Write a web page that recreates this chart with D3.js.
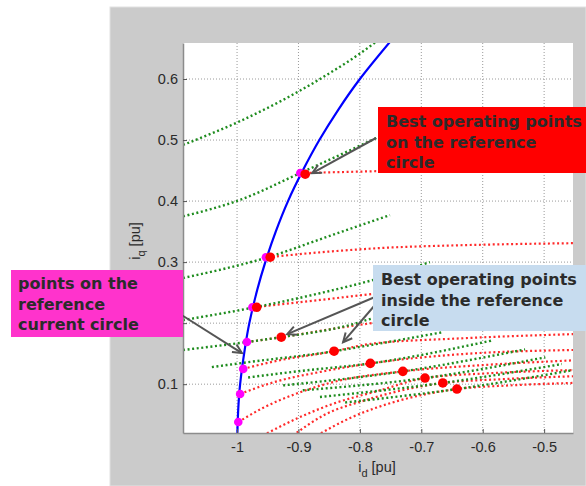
<!DOCTYPE html>
<html>
<head>
<meta charset="utf-8">
<script src="https://cdn.jsdelivr.net/npm/d3@7/dist/d3.min.js"></script>
<style>
  body { margin: 0; background: #fff; }
  .tick text { font-family: "Liberation Sans", Arial, sans-serif; font-size: 14.5px; fill: #2a2a2a; }
  .note { font-family: "DejaVu Sans", Verdana, sans-serif; font-weight: bold; font-size: 16px; fill: #2b2b2b; }
</style>
</head>
<body>
<div id="chart"></div>
<script>
// ticks
const xTicks = [-1, -0.9, -0.8, -0.7, -0.6, -0.5];
const xTickLabels = ["-1", "-0.9", "-0.8", "-0.7", "-0.6", "-0.5"];
const yTicks = [0.1, 0.2, 0.3, 0.4, 0.5, 0.6];
const yTickLabels = ["0.1", "0.2", "0.3", "0.4", "0.5", "0.6"];

// reference current circle (blue) [id, iq]
const circlePts = [[-1.0, 0.0], [-0.998, 0.06], [-0.995, 0.1], [-0.987, 0.16], [-0.98, 0.2],
  [-0.967, 0.255], [-0.954, 0.3], [-0.937, 0.35], [-0.917, 0.4], [-0.893, 0.45],
  [-0.866, 0.5], [-0.835, 0.55], [-0.8, 0.6], [-0.75, 0.662]];

// green dotted curves
const green1 = [[-1.088, 0.492], [-0.995, 0.531], [-0.865, 0.600], [-0.779, 0.657], [-0.76, 0.672]];
const green2 = [[-1.088, 0.375], [-0.995, 0.402], [-0.897, 0.446], [-0.770, 0.505], [-0.686, 0.546]];
const green3 = [[-1.088, 0.274], [-0.950, 0.308], [-0.849, 0.343], [-0.751, 0.377]];
const green4 = [[-1.088, 0.205], [-0.971, 0.226], [-0.865, 0.249], [-0.767, 0.274], [-0.686, 0.300]];
const green5 = [[-1.088, 0.156], [-0.984, 0.169], [-0.928, 0.177], [-0.816, 0.197], [-0.779, 0.208], [-0.70, 0.225]];
const green6 = [[-1.041, 0.128], [-0.990, 0.135], [-0.842, 0.154], [-0.783, 0.164], [-0.666, 0.185]];
const green7 = [[-0.982, 0.111], [-0.902, 0.121], [-0.783, 0.134], [-0.583, 0.172]];
const green8 = [[-0.925, 0.098], [-0.730, 0.121], [-0.531, 0.157]];
const green9 = [[-0.893, 0.090], [-0.694, 0.110], [-0.498, 0.144]];
const green10 = [[-0.865, 0.079], [-0.665, 0.102], [-0.471, 0.133]];
const green11 = [[-0.824, 0.070], [-0.642, 0.092], [-0.453, 0.123]];
const greenCurves = [green1, green2, green3, green4, green5, green6, green7, green8, green9, green10, green11];

// red dotted curves
const red1 = [[-0.889, 0.446], [-0.770, 0.449], [-0.60, 0.452], [-0.453, 0.455]];
const red2 = [[-0.950, 0.308], [-0.865, 0.316], [-0.767, 0.323], [-0.621, 0.328], [-0.453, 0.331]];
const red3 = [[-0.971, 0.226], [-0.865, 0.238], [-0.767, 0.249], [-0.60, 0.262], [-0.453, 0.267]];
const red4 = [[-0.984, 0.169], [-0.928, 0.177], [-0.816, 0.195], [-0.70, 0.210], [-0.453, 0.225]];
const red5 = [[-0.990, 0.125], [-0.941, 0.137], [-0.842, 0.154], [-0.783, 0.166], [-0.637, 0.175], [-0.453, 0.182]];
const red6 = [[-0.995, 0.084], [-0.941, 0.103], [-0.865, 0.120], [-0.783, 0.134], [-0.637, 0.149], [-0.453, 0.156]];
const red7 = [[-0.998, 0.038], [-0.958, 0.061], [-0.902, 0.085], [-0.849, 0.102], [-0.730, 0.121], [-0.604, 0.131], [-0.453, 0.139]];
const red8 = [[-0.958, 0.016], [-0.902, 0.044], [-0.849, 0.066], [-0.767, 0.090], [-0.694, 0.110], [-0.588, 0.118], [-0.453, 0.123]];
const red9 = [[-0.909, 0.016], [-0.859, 0.049], [-0.79, 0.074], [-0.665, 0.102], [-0.572, 0.108], [-0.453, 0.113]];
const red10 = [[-0.870, 0.016], [-0.815, 0.045], [-0.74, 0.072], [-0.642, 0.092], [-0.555, 0.098], [-0.453, 0.102]];
const redCurves = [red1, red2, red3, red4, red5, red6, red7, red8, red9, red10];

// points on the reference current circle (magenta)
const circlePoints = [[-0.897, 0.446], [-0.953, 0.308], [-0.975, 0.226], [-0.984, 0.169],
  [-0.990, 0.125], [-0.995, 0.084], [-0.998, 0.038]];
// best operating points (red)
const bestOnCircle = [[-0.889, 0.444], [-0.946, 0.308], [-0.968, 0.226]];
const bestInside = [[-0.928, 0.177], [-0.842, 0.154], [-0.783, 0.134], [-0.730, 0.121],
  [-0.694, 0.110], [-0.665, 0.102], [-0.642, 0.092]];

// layout
const W = 586, H = 486;
const plot = { left: 183, top: 43, right: 573, bottom: 433 };

const svg = d3.select("#chart").append("svg")
  .attr("width", W)
  .attr("height", H);

// grey figure background
svg.append("rect")
  .attr("x", 110).attr("y", 7)
  .attr("width", W - 110).attr("height", H - 7)
  .style("fill", "#cbcbcb")
  .style("stroke", "#e2e2e2");

svg.append("rect")
  .attr("x", plot.left).attr("y", plot.top)
  .attr("width", plot.right - plot.left).attr("height", plot.bottom - plot.top)
  .style("fill", "#fff");

const x = d3.scaleLinear().domain([-1.088, -0.453]).range([plot.left, plot.right]);
const y = d3.scaleLinear().domain([0.02, 0.659]).range([plot.bottom, plot.top]);

// grid
const grid = svg.append("g").attr("class", "grid");
grid.selectAll(".vgrid")
  .data(xTicks)
  .enter()
  .append("line")
  .attr("x1", d => x(d)).attr("x2", d => x(d))
  .attr("y1", plot.top).attr("y2", plot.bottom)
  .style("stroke", "#9a9a9a")
  .style("stroke-width", 1)
  .style("stroke-dasharray", "1,2");
grid.selectAll(".hgrid")
  .data(yTicks)
  .enter()
  .append("line")
  .attr("x1", plot.left).attr("x2", plot.right)
  .attr("y1", d => y(d)).attr("y2", d => y(d))
  .style("stroke", "#9a9a9a")
  .style("stroke-width", 1)
  .style("stroke-dasharray", "1,2");

// clip for curves
svg.append("clipPath").attr("id", "plotClip")
  .append("rect")
  .attr("x", plot.left).attr("y", plot.top)
  .attr("width", plot.right - plot.left).attr("height", plot.bottom - plot.top);

const lines = svg.append("g").attr("clip-path", "url(#plotClip)");

const line = d3.line()
  .x(d => x(d[0]))
  .y(d => y(d[1]))
  .curve(d3.curveMonotoneX);

lines.selectAll(".redCurve")
  .data(redCurves)
  .enter()
  .append("path")
  .attr("class", "redCurve")
  .attr("d", line)
  .style("fill", "none")
  .style("stroke", "#ff2a2a")
  .style("stroke-width", 2.2)
  .style("stroke-dasharray", "2,2.6");

lines.selectAll(".greenCurve")
  .data(greenCurves)
  .enter()
  .append("path")
  .attr("class", "greenCurve")
  .attr("d", line)
  .style("fill", "none")
  .style("stroke", "#1e8c1e")
  .style("stroke-width", 2.4)
  .style("stroke-dasharray", "2,2.6");

// reference current circle
lines.append("path")
  .datum(circlePts)
  .attr("d", d3.line().x(d => x(d[0])).y(d => y(d[1])).curve(d3.curveCatmullRom))
  .style("fill", "none")
  .style("stroke", "#0000ff")
  .style("stroke-width", 2.2);

lines.selectAll(".circlePoint")
  .data(circlePoints)
  .enter()
  .append("circle")
  .attr("cx", d => x(d[0])).attr("cy", d => y(d[1]))
  .attr("r", 4.3)
  .style("fill", "#ff00ff");

lines.selectAll(".bestPoint")
  .data(bestOnCircle.concat(bestInside))
  .enter()
  .append("circle")
  .attr("cx", d => x(d[0])).attr("cy", d => y(d[1]))
  .attr("r", 4.8)
  .style("fill", "#ff0000");

// axes
svg.append("g")
  .attr("transform", "translate(0," + plot.bottom + ")")
  .call(d3.axisBottom(x).tickValues(xTicks)
    .tickFormat((d, i) => xTickLabels[i])
    .tickSizeInner(-4).tickSizeOuter(0).tickPadding(9));
svg.append("g")
  .attr("transform", "translate(" + plot.left + ",0)")
  .call(d3.axisLeft(y).tickValues(yTicks)
    .tickFormat((d, i) => yTickLabels[i])
    .tickSizeInner(-4).tickSizeOuter(0).tickPadding(5));
svg.selectAll(".domain").style("stroke", "#8c8c8c").style("stroke-width", 1.5);
svg.selectAll(".tick line").style("stroke", "#555");

// axis labels
const xLabel = svg.append("text")
  .attr("x", 377).attr("y", 472)
  .attr("text-anchor", "middle")
  .style("font-family", "Liberation Sans, Arial, sans-serif")
  .style("font-size", "14.5px")
  .style("fill", "#2a2a2a");
xLabel.append("tspan").text("i");
xLabel.append("tspan").attr("dy", 5).style("font-size", "11px").text("d");
xLabel.append("tspan").attr("dy", -5).text(" [pu]");

const yLabel = svg.append("text")
  .attr("transform", "translate(140,241) rotate(-90)")
  .attr("text-anchor", "middle")
  .style("font-family", "Liberation Sans, Arial, sans-serif")
  .style("font-size", "14.5px")
  .style("fill", "#2a2a2a");
yLabel.append("tspan").text("i");
yLabel.append("tspan").attr("dy", 5).style("font-size", "11px").text("q");
yLabel.append("tspan").attr("dy", -5).text(" [pu]");

// arrows: start at the note box, end next to the marked point
function arrow(x1, y1, x2, y2) {
  let ang = Math.atan2(y1 - y2, x1 - x2);
  let len = 10, spread = 0.45;
  svg.append("line")
    .attr("x1", x1).attr("y1", y1).attr("x2", x2).attr("y2", y2)
    .style("stroke", "#555").style("stroke-width", 2);
  svg.append("path")
    .attr("d", "M" + (x2 + len * Math.cos(ang + spread)) + "," + (y2 + len * Math.sin(ang + spread)) +
      "L" + x2 + "," + y2 +
      "L" + (x2 + len * Math.cos(ang - spread)) + "," + (y2 + len * Math.sin(ang - spread)))
    .style("fill", "none").style("stroke", "#555").style("stroke-width", 2);
}

arrow(376, 138, x(bestOnCircle[0][0]) + 7, y(bestOnCircle[0][1]) - 1);
arrow(180, 314, x(circlePoints[3][0]) - 5, y(circlePoints[3][1]) + 11);
arrow(375, 297, x(bestInside[0][0]) + 6, y(bestInside[0][1]) - 3);
arrow(375, 305, x(bestInside[1][0]) + 9, y(bestInside[1][1]) - 9);

// note boxes
function note(bx, by, bw, bh, fill, lines, tx, ty) {
  svg.append("rect")
    .attr("x", bx).attr("y", by).attr("width", bw).attr("height", bh)
    .style("fill", fill);
  let t = svg.append("text").attr("class", "note");
  lines.forEach((s, i) => {
    t.append("tspan").attr("x", tx).attr("y", ty + i * 20.5).text(s);
  });
}

note(378, 107, 220, 66, "#ff0000",
  ["Best operating points", "on the reference", "circle"], 386, 127);
note(11, 270, 172, 67, "#ff33cc",
  ["points on the", "reference", "current circle"], 18, 289);
note(373, 265, 220, 66, "#c7dcef",
  ["Best operating points", "inside the reference", "circle"], 381, 285);
</script>
</body>
</html>
